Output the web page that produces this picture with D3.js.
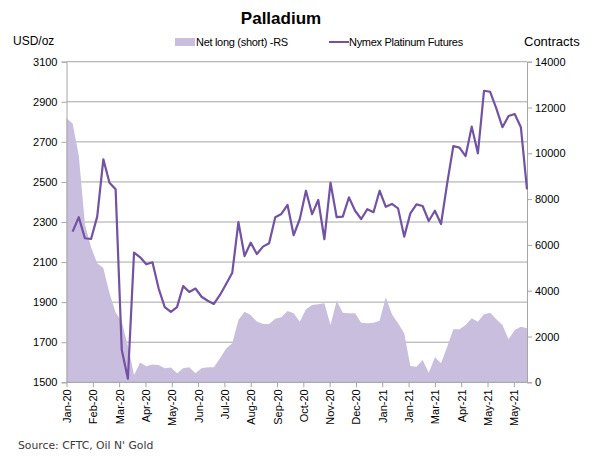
<!DOCTYPE html>
<html><head><meta charset="utf-8">
<script src="https://cdn.jsdelivr.net/npm/d3@7"></script>
<style>body{margin:0;background:#fff}svg{display:block}</style>
</head><body>
<svg id="c" width="600" height="459"></svg>
<script>
// ---- data ----
const startDate = "2020-01-07"; // first weekly CFTC report
const netLong = [11530,11300,9900,6900,5900,5200,4990,3900,3050,2650,1600,320,860,700,780,760,610,650,400,610,
  660,390,610,655,655,1050,1480,1700,2720,3080,2940,2650,2546,2546,2780,2840,3110,3013,2646,3188,
  3376,3406,3450,2502,3563,3039,3013,3013,2603,2576,2603,2690,3712,2970,2576,2140,712,681,974,419,
  1092,830,1555,2315,2315,2502,2795,2646,2970,3039,2751,2502,1878,2284,2428,2358];
const price = [null,2252,2324,2219,2215,2327,2613,2496,2463,1661,1518,2147,2124,2089,2099,1969,1875,1851,1875,1980,
  1951,1968,1927,1907,1891,1936,1991,2047,2299,2130,2197,2140,2177,2194,2324,2340,2385,2234,2315,2456,
  2339,2410,2214,2496,2324,2327,2423,2356,2315,2364,2349,2456,2376,2390,2368,2227,2343,2388,2380,2305,
  2356,2290,2493,2679,2671,2629,2776,2643,2955,2950,2867,2773,2829,2839,2773,2463];
const leftTicks = [1500,1700,1900,2100,2300,2500,2700,2900,3100];
const rightTicks = [0,2000,4000,6000,8000,10000,12000,14000];
const xTickLabels = ["Jan-20","Feb-20","Mar-20","Apr-20","May-20","Jun-20","Jul-20","Aug-20","Sep-20",
  "Oct-20","Nov-20","Dec-20","Jan-21","Jan-21","Mar-21","Apr-21","May-21","May-21"];
const seriesNames = ["Net long (short) -RS","Nymex Platinum Futures"];

// ---- layout ----
const L = 66.5, R = 527, T = 61.7, B = 382.3;
const areaColor = "#c9bedd", lineColor = "#7252a2", gridColor = "#a6a6a6";
const font = "'Liberation Sans', Arial, sans-serif";

const d0 = d3.timeParse("%Y-%m-%d")(startDate);
const dates = netLong.map((_, i) => d3.timeDay.offset(d0, 7 * i));
const tickDates = xTickLabels.map((_, k) => d3.timeDay.offset(d0, 30 * k));

const x = d3.scaleTime().domain([dates[0], dates[dates.length - 1]]).range([L, R]);
const yL = d3.scaleLinear().domain([1500, 3100]).range([B, T]);
const yR = d3.scaleLinear().domain([0, 14000]).range([B, T]);

const svg = d3.select("#c");

// gridlines
svg.append("g").selectAll("line").data(leftTicks).join("line")
  .attr("x1", L).attr("x2", R).attr("y1", d => yL(d)).attr("y2", d => yL(d))
  .attr("stroke", gridColor).attr("stroke-width", 1);

// area
svg.append("path").datum(netLong)
  .attr("fill", areaColor)
  .attr("d", d3.area().x((d, i) => x(dates[i])).y0(yR(0)).y1(d => yR(d)));

// axes
const axL = svg.append("g").attr("transform", `translate(${L},0)`)
  .call(d3.axisLeft(yL).tickValues(leftTicks).tickSize(5).tickPadding(4).tickFormat(d3.format("d")));
const axR = svg.append("g").attr("transform", `translate(${R},0)`)
  .call(d3.axisRight(yR).tickValues(rightTicks).tickSize(5).tickPadding(3).tickFormat(d3.format("d")));
const axB = svg.append("g").attr("transform", `translate(0,${B})`)
  .call(d3.axisBottom(x).tickValues(tickDates).tickSize(5).tickFormat((d, i) => xTickLabels[i]));
[axL, axR, axB].forEach(a => {
  a.selectAll("path.domain").attr("stroke", gridColor).attr("stroke-width", 1);
  a.selectAll(".tick line").attr("stroke", gridColor);
  a.selectAll("text").attr("fill", "#000").style("font-family", font).style("font-size", "11px");
});
axB.select("path.domain").remove();
svg.append("line").attr("x1", L).attr("x2", R).attr("y1", B).attr("y2", B).attr("stroke", gridColor);
axB.selectAll(".tick text")
  .attr("text-anchor", "end").attr("dy", null).attr("y", 0)
  .attr("transform", "translate(4,7) rotate(-90)");

// line
svg.append("path").datum(price)
  .attr("fill", "none").attr("stroke", lineColor).attr("stroke-width", 2.2)
  .attr("stroke-linejoin", "round")
  .attr("d", d3.line().defined(d => d != null).x((d, i) => x(dates[i])).y(d => yL(d)));

// title & labels
svg.append("text").attr("x", 281).attr("y", 24).attr("text-anchor", "middle")
  .style("font-family", font).style("font-size", "17px").style("font-weight", "bold").text("Palladium");
svg.append("text").attr("x", 13).attr("y", 45).style("font-family", font).style("font-size", "12px").text("USD/oz");
svg.append("text").attr("x", 524).attr("y", 46).style("font-family", font).style("font-size", "13px").text("Contracts");

// legend
svg.append("rect").attr("x", 175).attr("y", 38).attr("width", 20).attr("height", 8).attr("fill", areaColor);
svg.append("text").attr("x", 196).attr("y", 46).style("font-family", font).style("font-size", "11px")
  .style("letter-spacing", "-0.3px").text(seriesNames[0]);
svg.append("line").attr("x1", 329).attr("x2", 349).attr("y1", 42).attr("y2", 42)
  .attr("stroke", lineColor).attr("stroke-width", 2);
svg.append("text").attr("x", 349).attr("y", 46).style("font-family", font).style("font-size", "11px")
  .style("letter-spacing", "-0.3px").text(seriesNames[1]);

// source
svg.append("text").attr("x", 18).attr("y", 449).attr("fill", "#3a3a3a")
  .style("font-family", "'DejaVu Sans', Verdana, sans-serif").style("font-size", "10.8px")
  .text("Source: CFTC, Oil N' Gold");
</script>
</body></html>
